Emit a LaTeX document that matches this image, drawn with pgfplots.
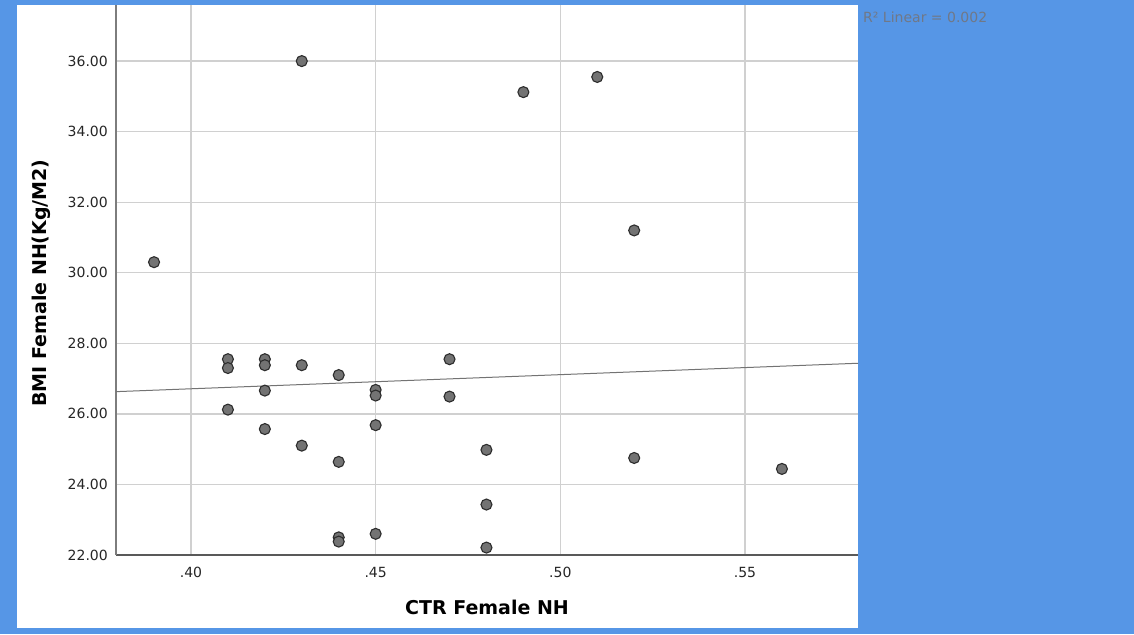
\documentclass[border=0pt]{standalone}
\usepackage{pgfplots}
\pgfplotsset{compat=1.18}
\usepackage{fontspec}
\setmainfont{DejaVu Sans}
\definecolor{bgblue}{RGB}{86,150,230}
\definecolor{gridgray}{RGB}{208,208,208}
\definecolor{axgray}{RGB}{125,125,125}
\definecolor{markfill}{RGB}{115,115,115}
\definecolor{markedge}{RGB}{45,45,45}
\definecolor{rtext}{RGB}{112,120,135}
\begin{document}
\begin{tikzpicture}
\fill[bgblue] (0pt,0pt) rectangle (1134pt,634pt);
\fill[white] (17pt,6pt) rectangle (858pt,629pt);
\begin{axis}[
  at={(116pt,79pt)}, anchor=south west,
  scale only axis, width=742pt, height=550pt,
  xmin=0.3797, xmax=0.5806, ymin=22, ymax=37.59,
  axis x line*=bottom, axis y line*=left,
  axis line style={-, line width=1.3pt},
  x axis line style={draw=black!65},
  y axis line style={draw=axgray},
  xtick={0.40,0.45,0.50,0.55},
  xticklabels={.40,.45,.50,.55},
  ytick={22,24,26,28,30,32,34,36},
  yticklabels={22.00,24.00,26.00,28.00,30.00,32.00,34.00,36.00},
  major tick length=0pt,
  tick style={draw=none},
  ticklabel style={font=\fontsize{14}{16}\selectfont, text=black!85},
  yticklabel style={inner sep=0pt, xshift=-8pt},
  xticklabel style={inner sep=0pt, yshift=-12pt},
  grid=major,
  grid style={draw=gridgray, line width=1.4pt},
  clip=false,
]
\addplot[draw=black!55, line width=1pt, no marks]
  coordinates {(0.3797,26.63) (0.5806,27.435)};
\addplot[only marks, mark=*, mark size=5.5pt,
  mark options={fill=markfill, draw=markedge, line width=1.1pt}]
  coordinates {
  (0.39,30.30) (0.43,36.00) (0.49,35.12) (0.51,35.55) (0.52,31.20)
  (0.41,27.55) (0.41,27.30) (0.41,26.12)
  (0.42,27.55) (0.42,27.38) (0.42,26.66) (0.42,25.57)
  (0.43,27.38) (0.43,25.10)
  (0.44,27.10) (0.44,24.64) (0.44,22.50) (0.44,22.38)
  (0.45,26.68) (0.45,26.52) (0.45,25.68) (0.45,22.60)
  (0.47,27.55) (0.47,26.49)
  (0.48,24.98) (0.48,23.43) (0.48,22.21)
  (0.52,24.75) (0.56,24.44)
  };
\end{axis}
\node[font=\bfseries\fontsize{19}{22}\selectfont] at (487pt,27pt) {CTR Female NH};
\node[rotate=90, font=\bfseries\fontsize{19}{22}\selectfont] at (41pt,351pt) {BMI Female NH(Kg/M2)};
\node[anchor=west, inner sep=0pt, text=rtext, font=\fontsize{14}{16}\selectfont] at (863pt,617pt) {R² Linear = 0.002};
\end{tikzpicture}
\end{document}
